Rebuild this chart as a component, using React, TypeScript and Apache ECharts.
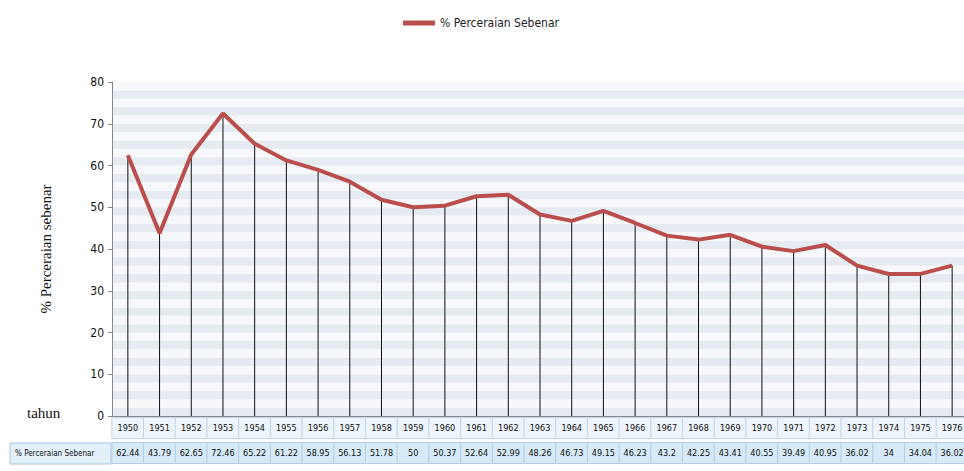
import React, { useEffect, useRef } from "react";
import * as echarts from "echarts";

const years = ["1950","1951","1952","1953","1954","1955","1956","1957","1958","1959","1960","1961","1962","1963","1964","1965","1966","1967","1968","1969","1970","1971","1972","1973","1974","1975","1976"];
const values = [62.44,43.79,62.65,72.46,65.22,61.22,58.95,56.13,51.78,50,50.37,52.64,52.99,48.26,46.73,49.15,46.23,43.2,42.25,43.41,40.55,39.49,40.95,36.02,34,34.04,36.02];
const seriesName = "% Perceraian Sebenar";
const yTitle = "% Perceraian sebenar";
const xTitle = "tahun";

const NARROW = "'Liberation Sans Narrow', 'DejaVu Sans Condensed', 'Liberation Sans', sans-serif";
const SERIF = "'Liberation Serif', 'DejaVu Serif', serif";

export default function App() {
  const ref = useRef<HTMLDivElement>(null);
  useEffect(() => {
    if (!ref.current) return;
    const chart = echarts.init(ref.current, null, { renderer: "svg" });
    chart.setOption({
      animation: false,
      backgroundColor: "#ffffff",
      legend: {
        top: 12,
        left: 398,
        icon: "rect",
        itemWidth: 32,
        itemHeight: 5,
        itemGap: 2,
        textStyle: { fontFamily: NARROW, fontSize: 12, color: "#222" },
        data: [seriesName],
      },
      grid: { left: 112, top: 82, width: 856, height: 334 },
      xAxis: [
        {
          type: "category",
          data: years,
          boundaryGap: true,
          position: "bottom",
          axisLine: { show: true, lineStyle: { color: "#888" } },
          axisTick: { show: false },
          axisLabel: {
            margin: 2,
            interval: 0,
            fontFamily: NARROW,
            fontSize: 9,
            color: "#111",
            width: 31,
            height: 20,
            lineHeight: 20,
            align: "center",
            backgroundColor: "#eef4fb",
            borderColor: "#c3d4e8",
            borderWidth: 1,
          },
        },
        {
          type: "category",
          data: years,
          boundaryGap: true,
          position: "bottom",
          offset: 25,
          axisLine: { show: false },
          axisTick: { show: false },
          axisLabel: {
            margin: 2,
            interval: 0,
            fontFamily: NARROW,
            fontSize: 9,
            color: "#111",
            width: 31,
            height: 20,
            lineHeight: 20,
            align: "center",
            backgroundColor: "#d6eaf7",
            borderColor: "#b5cde6",
            borderWidth: 1,
            formatter: (_v: string, i: number) => String(values[i]),
          },
        },
      ],
      yAxis: [
        {
          type: "value",
          min: 0,
          max: 80,
          interval: 10,
          name: yTitle,
          nameLocation: "middle",
          nameRotate: 90,
          nameGap: 59,
          nameTextStyle: { fontFamily: SERIF, fontSize: 15, color: "#111" },
          axisLine: { show: true, lineStyle: { color: "#888" } },
          axisTick: { show: true, length: 4, lineStyle: { color: "#888" } },
          axisLabel: { fontFamily: NARROW, fontSize: 12, color: "#111", margin: 8 },
          splitLine: { show: false },
        },
        {
          type: "value",
          min: 0,
          max: 80,
          interval: 2,
          show: true,
          axisLine: { show: false },
          axisTick: { show: false },
          axisLabel: { show: false },
          splitLine: { show: false },
          splitArea: { show: true, areaStyle: { color: ["#e6eaf1", "#f7f8fb"] } },
        },
      ],
      series: [
        {
          name: "drop",
          type: "bar",
          data: values,
          barWidth: 1,
          itemStyle: { color: "#111" },
          silent: true,
          z: 1,
        },
        {
          name: seriesName,
          type: "line",
          data: values,
          symbol: "none",
          lineStyle: { color: "#b94e4c", width: 4 },
          itemStyle: { color: "#b94e4c" },
          z: 3,
        },
      ],
      graphic: [
        {
          type: "text",
          left: 27,
          top: 405,
          style: { text: xTitle, font: `15px ${SERIF}`, fill: "#111" },
        },
        {
          type: "rect",
          shape: { x: 10, y: 443, width: 101, height: 21 },
          style: { fill: "#e2f0fa", stroke: "#a9c4e2", lineWidth: 1 },
        },
        {
          type: "text",
          x: 15,
          y: 453.5,
          style: { text: seriesName, font: `8px ${NARROW}`, fill: "#111", verticalAlign: "middle" },
        },
      ],
    });
    return () => chart.dispose();
  }, []);
  return (
    <div style={{ position: "fixed", left: 0, top: 0, width: 964, height: 471, overflow: "hidden" }}>
      <div ref={ref} style={{ width: 990, height: 471 }} />
    </div>
  );
}
